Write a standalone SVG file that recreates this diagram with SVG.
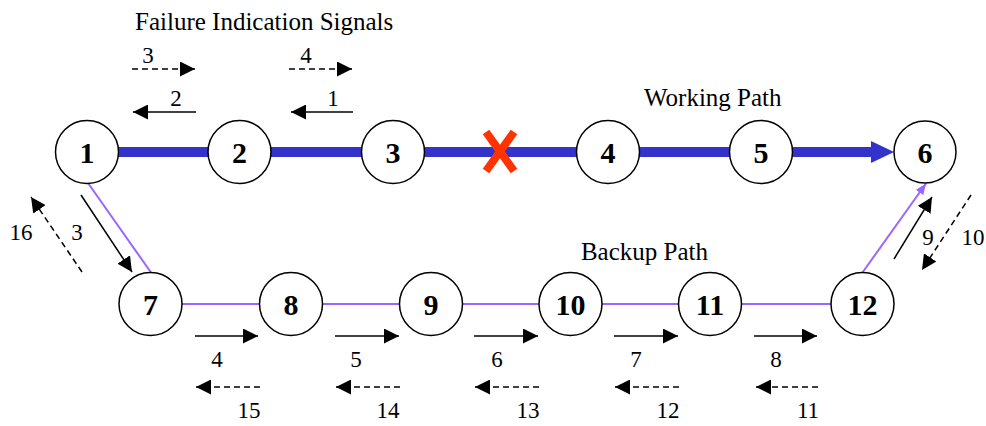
<svg xmlns="http://www.w3.org/2000/svg" width="986" height="426" viewBox="0 0 986 426">
<style>
.node circle{fill:#fff;stroke:#000;stroke-width:1.5}
.node text{font-family:"Liberation Serif","Times New Roman",serif;font-weight:bold;font-size:30px;text-anchor:middle;fill:#000}
.title{font-family:"Liberation Serif","Times New Roman",serif;font-size:25px;fill:#000}
.lbl{font-family:"Liberation Serif","Times New Roman",serif;font-size:23px;fill:#000;text-anchor:middle}
.work{stroke:#3333cc;stroke-width:10;fill:none}
.backup{stroke:#9966ff;stroke-width:2;fill:none}
.sig{stroke:#000;stroke-width:1.5;fill:none;marker-end:url(#ah)}
.dash{stroke-dasharray:6,4}
</style>
<defs>
<marker id="ah" markerUnits="userSpaceOnUse" markerWidth="15" markerHeight="15" refX="15" refY="7.5" orient="auto" viewBox="0 0 15 15">
<path d="M0,0 L15,7.5 L0,15 z" fill="#000"/>
</marker>
<marker id="ph" markerUnits="userSpaceOnUse" markerWidth="11" markerHeight="9" refX="11" refY="4.5" orient="auto" viewBox="0 0 11 9">
<path d="M0,0 L11,4.5 L0,9 z" fill="#9966ff"/>
</marker>
</defs>
<g id="connectors">
<line class="work" x1="87" y1="152" x2="873" y2="152"/>
<polygon points="871,141 894,152 871,163" fill="#3333cc"/>
<line class="backup" x1="88" y1="183" x2="151" y2="272.5"/>
<line class="backup" x1="150.5" y1="304" x2="862.5" y2="304"/>
<line class="backup" x1="862.5" y1="272.5" x2="926" y2="183.5" marker-end="url(#ph)"/>
</g>
<g id="failure">
<line x1="486" y1="132" x2="514" y2="171" stroke="#ff3300" stroke-width="8"/>
<line x1="514" y1="132" x2="486" y2="171" stroke="#ff3300" stroke-width="8"/>
</g>
<g id="n1" class="node"><circle cx="87" cy="152" r="31.5"/><text x="87" y="163">1</text></g>
<g id="n2" class="node"><circle cx="239.5" cy="152" r="31.5"/><text x="239.5" y="163">2</text></g>
<g id="n3" class="node"><circle cx="393" cy="152" r="31.5"/><text x="393" y="163">3</text></g>
<g id="n4" class="node"><circle cx="608" cy="152" r="31.5"/><text x="608" y="163">4</text></g>
<g id="n5" class="node"><circle cx="761" cy="152" r="31.5"/><text x="761" y="163">5</text></g>
<g id="n6" class="node"><circle cx="925" cy="152" r="31"/><text x="925" y="163">6</text></g>
<g id="n7" class="node"><circle cx="150.5" cy="304" r="31.5"/><text x="150.5" y="315">7</text></g>
<g id="n8" class="node"><circle cx="291" cy="304" r="31.5"/><text x="291" y="315">8</text></g>
<g id="n9" class="node"><circle cx="431" cy="304" r="31.5"/><text x="431" y="315">9</text></g>
<g id="n10" class="node"><circle cx="570.5" cy="304" r="31.5"/><text x="570.5" y="315">10</text></g>
<g id="n11" class="node"><circle cx="710" cy="304" r="31.5"/><text x="710" y="315">11</text></g>
<g id="n12" class="node"><circle cx="862.5" cy="304" r="31.5"/><text x="862.5" y="315">12</text></g>
<g id="signals">
<line class="sig dash" x1="132" y1="69" x2="195" y2="69"/>
<line class="sig" x1="196" y1="112" x2="133" y2="112"/>
<line class="sig dash" x1="289" y1="69" x2="352" y2="69"/>
<line class="sig" x1="353" y1="112" x2="291" y2="112"/>
<line class="sig" x1="81" y1="195" x2="132" y2="272"/>
<line class="sig dash" x1="82" y1="272" x2="31" y2="197"/>
<line class="sig" x1="894" y1="259" x2="932" y2="197"/>
<line class="sig dash" x1="971" y1="195" x2="922" y2="270"/>
<line class="sig" x1="195" y1="336" x2="258" y2="336"/>
<line class="sig dash" x1="260" y1="387" x2="196" y2="387"/>
<line class="sig" x1="335" y1="336" x2="399" y2="336"/>
<line class="sig dash" x1="400" y1="387" x2="336" y2="387"/>
<line class="sig" x1="474" y1="336" x2="538" y2="336"/>
<line class="sig dash" x1="539" y1="387" x2="475" y2="387"/>
<line class="sig" x1="614" y1="336" x2="678" y2="336"/>
<line class="sig dash" x1="679" y1="387" x2="615" y2="387"/>
<line class="sig" x1="754" y1="336" x2="817" y2="336"/>
<line class="sig dash" x1="818" y1="387" x2="756" y2="387"/>
</g>
<g id="labels">
<text class="title" x="135" y="30">Failure Indication Signals</text>
<text class="title" x="644" y="106">Working Path</text>
<text class="title" x="708" y="260" text-anchor="end">Backup Path</text>
<text class="lbl" x="148" y="63">3</text>
<text class="lbl" x="306" y="63">4</text>
<text class="lbl" x="176" y="106">2</text>
<text class="lbl" x="333" y="106">1</text>
<text class="lbl" x="77" y="240">3</text>
<text class="lbl" x="21" y="240">16</text>
<text class="lbl" x="928" y="245">9</text>
<text class="lbl" x="973" y="245">10</text>
<text class="lbl" x="217" y="367">4</text>
<text class="lbl" x="249" y="418">15</text>
<text class="lbl" x="356" y="367">5</text>
<text class="lbl" x="388" y="418">14</text>
<text class="lbl" x="497" y="367">6</text>
<text class="lbl" x="528" y="418">13</text>
<text class="lbl" x="636" y="367">7</text>
<text class="lbl" x="668" y="418">12</text>
<text class="lbl" x="776" y="367">8</text>
<text class="lbl" x="808" y="418">11</text>
</g>
</svg>
